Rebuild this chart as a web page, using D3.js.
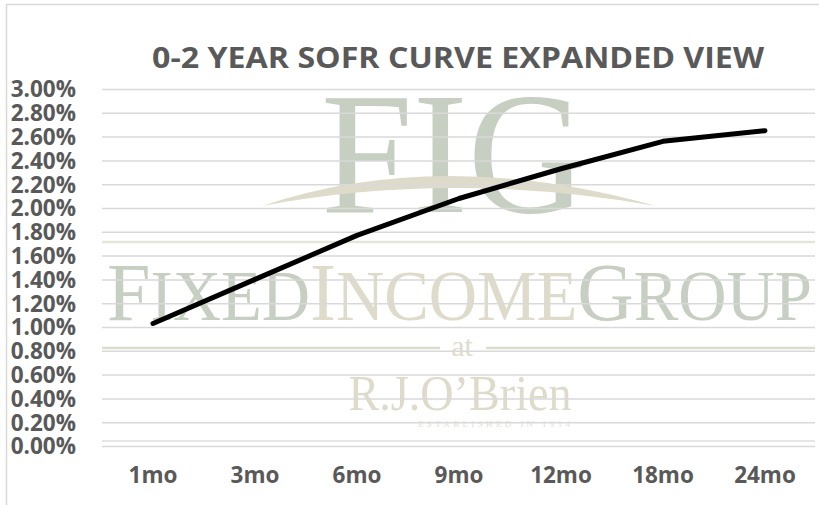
<!DOCTYPE html>
<meta charset="utf-8">
<style>
body { margin: 0; background: #fff; }
.chart text { font-family: "Open Sans", sans-serif; }
.axis text { font-weight: bold; font-size: 22.5px; fill: #595959; }
.axis path { display: none; }
.grid line { stroke: #d9d9d9; stroke-width: 1.5; }
.title { font-weight: bold; font-size: 29px; fill: #595959; }
.mark text { font-family: "Liberation Serif", serif; }
.line { fill: none; stroke: #000; stroke-width: 5; stroke-linecap: round; stroke-linejoin: round; }
</style>
<svg class="chart" width="819" height="505"></svg>
<script src="https://cdn.jsdelivr.net/npm/d3@7/dist/d3.min.js"></script>
<script>
var categories = ["1mo", "3mo", "6mo", "9mo", "12mo", "18mo", "24mo"];
var sofr = [0.0103, 0.0140, 0.0177, 0.0208, 0.0233, 0.0256, 0.0265];
var yTicks = [0, 0.002, 0.004, 0.006, 0.008, 0.010, 0.012, 0.014,
              0.016, 0.018, 0.020, 0.022, 0.024, 0.026, 0.028, 0.030];
var title = "0-2 YEAR SOFR CURVE EXPANDED VIEW";

var plotLeft = 102, plotRight = 816, plotTop = 89, plotBottom = 446;
var green = "#c6cfc2", beige = "#dedbcb";

var svg = d3.select(".chart");

// chart frame
svg.append("path")
    .attr("d", "M6.5,505V4.5H819")
    .attr("fill", "none")
    .attr("stroke", "#d9d9d9")
    .attr("stroke-width", 1.5);

var x = d3.scaleBand().domain(categories).range([plotLeft, plotRight]);
var y = d3.scaleLinear().domain([0, 0.03]).range([plotBottom, plotTop]);

// watermark
var mark = svg.append("g").attr("class", "mark");

mark.append("text")
    .attr("x", 454).attr("y", 212)
    .attr("text-anchor", "middle")
    .attr("font-size", 174)
    .attr("textLength", 266)
    .attr("lengthAdjust", "spacingAndGlyphs")
    .attr("fill", green)
    .text("FIG");

mark.append("path")
    .attr("d", "M262,206Q440,146 656,206Q450,170 262,206Z")
    .attr("fill", beige);

mark.append("line")
    .attr("x1", plotLeft).attr("x2", plotRight - 1)
    .attr("y1", 242).attr("y2", 242)
    .attr("stroke", "#e6e5da").attr("stroke-width", 2.5);

var fig = mark.append("text")
    .attr("x", 107).attr("y", 320)
    .attr("textLength", 705)
    .attr("lengthAdjust", "spacingAndGlyphs");
[["F", 83, green], ["IXED", 71, green], ["I", 83, beige], ["NCOME", 71, beige],
 ["G", 83, green], ["ROUP", 71, green]].forEach(function(p){
    fig.append("tspan").attr("font-size", p[1]).attr("fill", p[2]).text(p[0]);
});

mark.append("line")
    .attr("x1", plotLeft).attr("x2", 440)
    .attr("y1", 348).attr("y2", 348)
    .attr("stroke", "#dcdbcf").attr("stroke-width", 2.5);
mark.append("line")
    .attr("x1", 486).attr("x2", plotRight - 1)
    .attr("y1", 348).attr("y2", 348)
    .attr("stroke", "#dcdbcf").attr("stroke-width", 2.5);
mark.append("text")
    .attr("x", 462).attr("y", 356)
    .attr("text-anchor", "middle")
    .attr("font-size", 30)
    .attr("fill", beige)
    .text("at");

mark.append("text")
    .attr("x", 460).attr("y", 410)
    .attr("text-anchor", "middle")
    .attr("font-size", 50)
    .attr("textLength", 223)
    .attr("lengthAdjust", "spacingAndGlyphs")
    .attr("fill", beige)
    .text("R.J.O\u2019Brien");

mark.append("text")
    .attr("x", 494).attr("y", 427)
    .attr("text-anchor", "middle")
    .attr("font-size", 9)
    .attr("textLength", 152)
    .attr("fill", "#e2e1d6")
    .text("ESTABLISHED IN 1914");

mark.append("line")
    .attr("x1", plotLeft).attr("x2", plotRight - 1)
    .attr("y1", 441).attr("y2", 441)
    .attr("stroke", "#dedede").attr("stroke-width", 1.5);

// y axis with gridlines
svg.append("g")
    .attr("class", "y axis grid")
    .attr("transform", "translate(" + plotLeft + ",0)")
    .call(d3.axisLeft(y)
        .tickValues(yTicks)
        .tickFormat(d3.format(".2%"))
        .tickSize(-(plotRight - plotLeft - 1))
        .tickPadding(26))
    .selectAll("text")
        .attr("dy", "0.35em");

// x axis
svg.append("g")
    .attr("class", "x axis")
    .attr("transform", "translate(0," + plotBottom + ")")
    .call(d3.axisBottom(x).tickSize(0))
    .selectAll("text")
        .attr("y", 37)
        .attr("dy", 0);

svg.append("text")
    .attr("class", "title")
    .attr("x", 458).attr("y", 68)
    .attr("text-anchor", "middle")
    .attr("textLength", 612)
    .attr("lengthAdjust", "spacingAndGlyphs")
    .text(title);

var line = d3.line()
    .x(function(d, i){ return x(categories[i]) + x.bandwidth() / 2; })
    .y(function(d){ return y(d); });

svg.append("path")
    .datum(sofr)
    .attr("class", "line")
    .attr("d", line);
</script>
